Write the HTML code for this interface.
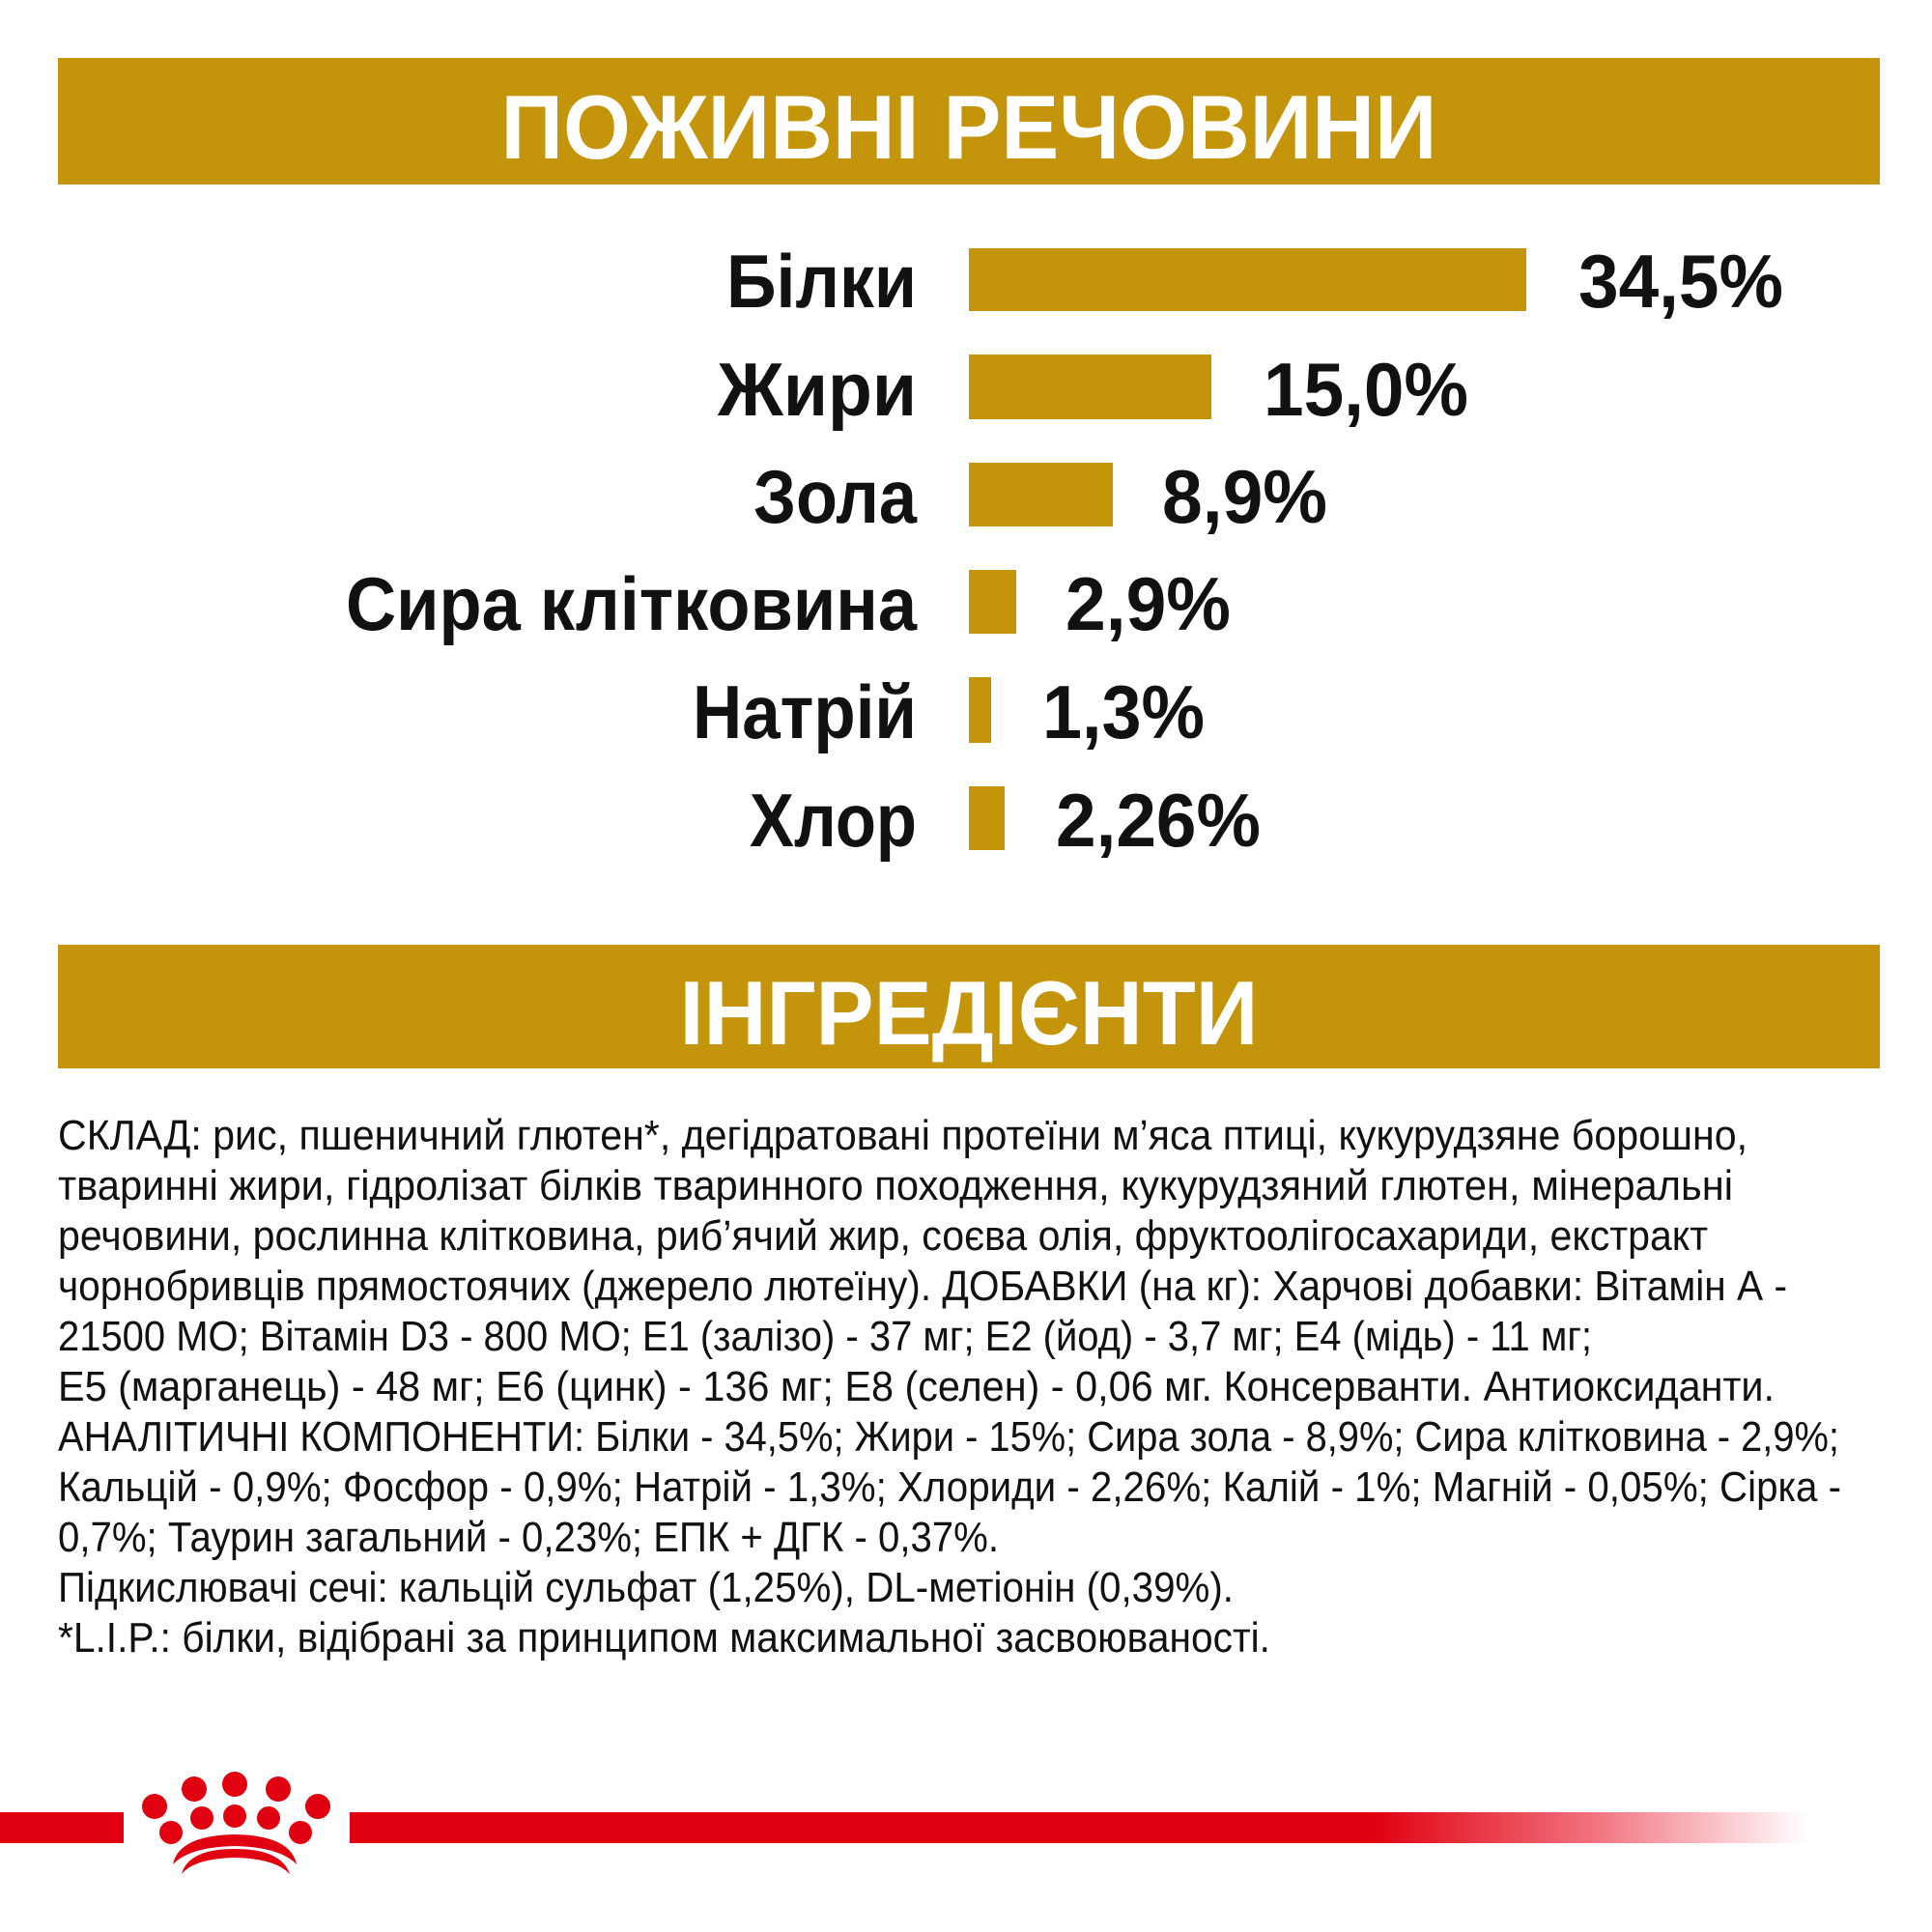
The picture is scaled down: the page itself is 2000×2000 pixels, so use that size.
<!DOCTYPE html>
<html><head><meta charset="utf-8"><style>
html,body{margin:0;padding:0;background:#fff;}
body{width:2000px;height:2000px;position:relative;overflow:hidden;}
svg{position:absolute;left:0;top:0;}
</style></head><body>
<svg width="2000" height="2000" viewBox="0 0 2000 2000" xmlns="http://www.w3.org/2000/svg">
<defs>
<linearGradient id="fade" x1="0" x2="1" y1="0" y2="0">
<stop offset="0" stop-color="#e0000f"/>
<stop offset="0.7" stop-color="#e0000f"/>
<stop offset="0.85" stop-color="#f2707c"/>
<stop offset="1" stop-color="#ffffff"/>
</linearGradient>
</defs>
<rect x="60" y="60" width="1886" height="131" fill="#c4940a"/>
<text x="1003" y="164" text-anchor="middle" font-family="Liberation Sans, sans-serif" font-weight="bold" font-size="94" fill="#fff" textLength="969" lengthAdjust="spacingAndGlyphs">ПОЖИВНІ РЕЧОВИНИ</text>

<g font-family="Liberation Sans, sans-serif" font-weight="bold" font-size="78" fill="#111">
<rect x="1003" y="257" width="577" height="65" fill="#c4940a"/>
<text x="949" y="318" text-anchor="end" textLength="197" lengthAdjust="spacingAndGlyphs">Білки</text>
<text x="1634" y="318" textLength="212" lengthAdjust="spacingAndGlyphs">34,5%</text>
<rect x="1003" y="367" width="251" height="67" fill="#c4940a"/>
<text x="949" y="430" text-anchor="end" textLength="206" lengthAdjust="spacingAndGlyphs">Жири</text>
<text x="1308" y="430" textLength="212" lengthAdjust="spacingAndGlyphs">15,0%</text>
<rect x="1003" y="479" width="149" height="66" fill="#c4940a"/>
<text x="949" y="541" text-anchor="end" textLength="169" lengthAdjust="spacingAndGlyphs">Зола</text>
<text x="1203" y="541" textLength="171" lengthAdjust="spacingAndGlyphs">8,9%</text>
<rect x="1003" y="590" width="49" height="66" fill="#c4940a"/>
<text x="949" y="652" text-anchor="end" textLength="591" lengthAdjust="spacingAndGlyphs">Сира клітковина</text>
<text x="1103" y="652" textLength="171" lengthAdjust="spacingAndGlyphs">2,9%</text>
<rect x="1003" y="701" width="23" height="68" fill="#c4940a"/>
<text x="949" y="764" text-anchor="end" textLength="232" lengthAdjust="spacingAndGlyphs">Натрій</text>
<text x="1079" y="764" textLength="168" lengthAdjust="spacingAndGlyphs">1,3%</text>
<rect x="1003" y="814" width="37" height="66" fill="#c4940a"/>
<text x="949" y="876" text-anchor="end" textLength="173" lengthAdjust="spacingAndGlyphs">Хлор</text>
<text x="1093" y="876" textLength="212" lengthAdjust="spacingAndGlyphs">2,26%</text>
</g>

<rect x="60" y="978" width="1886" height="128" fill="#c4940a"/>
<text x="1003" y="1081" text-anchor="middle" font-family="Liberation Sans, sans-serif" font-weight="bold" font-size="94" fill="#fff" textLength="599" lengthAdjust="spacingAndGlyphs">ІНГРЕДІЄНТИ</text>

<g font-family="Liberation Sans, sans-serif" font-size="44" fill="#111">
<text x="60" y="1190" textLength="1749" lengthAdjust="spacingAndGlyphs">СКЛАД: рис, пшеничний глютен*, дегідратовані протеїни м’яса птиці, кукурудзяне борошно,</text>
<text x="60" y="1242" textLength="1734" lengthAdjust="spacingAndGlyphs">тваринні жири, гідролізат білків тваринного походження, кукурудзяний глютен, мінеральні</text>
<text x="60" y="1294" textLength="1708" lengthAdjust="spacingAndGlyphs">речовини, рослинна клітковина, риб’ячий жир, соєва олія, фруктоолігосахариди, екстракт</text>
<text x="60" y="1346" textLength="1790" lengthAdjust="spacingAndGlyphs">чорнобривців прямостоячих (джерело лютеїну). ДОБАВКИ (на кг): Харчові добавки: Вітамін А -</text>
<text x="60" y="1398" textLength="1588" lengthAdjust="spacingAndGlyphs">21500 МО; Вітамін D3 - 800 МО; Е1 (залізо) - 37 мг; Е2 (йод) - 3,7 мг; Е4 (мідь) - 11 мг;</text>
<text x="60" y="1450" textLength="1777" lengthAdjust="spacingAndGlyphs">Е5 (марганець) - 48 мг; Е6 (цинк) - 136 мг; Е8 (селен) - 0,06 мг. Консерванти. Антиоксиданти.</text>
<text x="60" y="1502" textLength="1844" lengthAdjust="spacingAndGlyphs">АНАЛІТИЧНІ КОМПОНЕНТИ: Білки - 34,5%; Жири - 15%; Сира зола - 8,9%; Сира клітковина - 2,9%;</text>
<text x="60" y="1554" textLength="1846" lengthAdjust="spacingAndGlyphs">Кальцій - 0,9%; Фосфор - 0,9%; Натрій - 1,3%; Хлориди - 2,26%; Калій - 1%; Магній - 0,05%; Сірка -</text>
<text x="60" y="1606" textLength="974" lengthAdjust="spacingAndGlyphs">0,7%; Таурин загальний - 0,23%; ЕПК + ДГК - 0,37%.</text>
<text x="60" y="1658" textLength="1217" lengthAdjust="spacingAndGlyphs">Підкислювачі сечі: кальцій сульфат (1,25%), DL-метіонін (0,39%).</text>
<text x="60" y="1710" textLength="1255" lengthAdjust="spacingAndGlyphs">*L.I.P.: білки, відібрані за принципом максимальної засвоюваності.</text>
</g>

<rect x="0" y="1876" width="128" height="32" fill="#e0000f"/>
<rect x="362" y="1876" width="1510" height="32" fill="url(#fade)"/>
<g fill="#e0000f">
<circle cx="160" cy="1870" r="13"/>
<circle cx="201" cy="1852" r="13"/>
<circle cx="243" cy="1847" r="13"/>
<circle cx="288" cy="1852" r="13"/>
<circle cx="329" cy="1870" r="13"/>
<circle cx="209" cy="1882" r="12"/>
<circle cx="243" cy="1880" r="12"/>
<circle cx="278" cy="1882" r="12"/>
<circle cx="177" cy="1897" r="12"/>
<circle cx="311" cy="1897" r="12"/>
<path d="M179 1930 Q185 1900 243 1899 Q301 1900 307 1930 Q290 1912 243 1911 Q196 1912 179 1930 Z"/>
<path d="M188 1940 Q195 1914 243 1914 Q291 1914 300 1940 Q285 1924 243 1923 Q201 1924 188 1940 Z"/>
</g>
</svg>
</body></html>
